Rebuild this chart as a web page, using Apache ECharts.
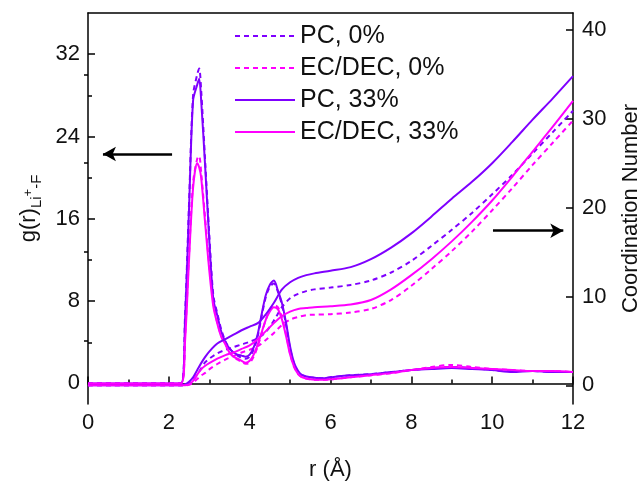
<!DOCTYPE html>
<html lang="en">
<head>
	<meta charset="utf-8">
	<script type="text/javascript" src="https://cdn.jsdelivr.net/npm/echarts@6/dist/echarts.min.js"></script>
	<title>g(r) and coordination number</title>
	<style>
		html,body{margin:0;padding:0;background:#fff;}
		#chart{width:643px;height:483px;}
	</style>
</head>
<body>
	<div id="chart"></div>
<script>
// r grid for g(r)
var rG = [0, 2.3, 2.4, 2.5, 2.6, 2.7, 2.75, 2.8, 2.9, 3.0, 3.1, 3.2, 3.3, 3.4, 3.5, 3.6, 3.7, 3.8, 3.9, 4.0,
	4.1, 4.2, 4.3, 4.4, 4.5, 4.6, 4.7, 4.8, 4.9, 5.0, 5.1, 5.2, 5.3, 5.5, 5.8, 6.0, 6.5, 7.0, 7.5, 8.0,
	8.5, 9.0, 9.5, 10.0, 10.5, 11.0, 11.5, 12.0];
var gPC0 = [0, 0, 6.5, 17.5, 28.0, 30.0, 30.6, 28.5, 21.5, 14.5, 8.6, 6.8, 5.2, 4.1, 3.4, 3.0, 2.7, 2.5, 2.4, 2.6,
	3.3, 4.6, 6.6, 8.4, 9.4, 9.7, 8.9, 7.6, 5.7, 3.4, 1.9, 1.1, 0.8, 0.6, 0.5, 0.6, 0.8, 0.9, 1.1, 1.3,
	1.5, 1.6, 1.5, 1.3, 1.2, 1.2, 1.1, 1.1];
var gEC0 = [0, 0, 4.5, 12.5, 19.5, 21.8, 22.1, 20.5, 16.0, 11.5, 7.8, 5.9, 4.6, 3.8, 3.0, 2.6, 2.3, 2.1, 1.9, 2.0,
	2.6, 3.6, 4.9, 6.2, 7.2, 7.6, 7.4, 6.4, 4.8, 2.9, 1.6, 0.9, 0.6, 0.4, 0.35, 0.4, 0.6, 0.8, 1.0, 1.3,
	1.6, 1.8, 1.6, 1.4, 1.3, 1.2, 1.2, 1.1];
var gPC33 = [0, 0, 6.0, 17.0, 27.5, 29.0, 29.6, 27.5, 21.0, 14.0, 8.2, 6.6, 5.0, 4.0, 3.4, 3.0, 2.8, 2.7, 2.6, 2.8,
	3.5, 4.8, 6.8, 8.6, 9.6, 10.0, 9.0, 7.8, 5.9, 3.6, 2.0, 1.2, 0.8, 0.6, 0.5, 0.6, 0.8, 0.9, 1.1, 1.3,
	1.4, 1.5, 1.4, 1.3, 1.1, 1.2, 1.1, 1.1];
var gEC33 = [0, 0, 4.0, 12.0, 19.0, 21.4, 21.0, 20.0, 15.5, 11.0, 7.5, 5.8, 4.5, 3.8, 3.0, 2.6, 2.4, 2.2, 2.0, 2.2,
	2.8, 3.8, 5.0, 6.2, 7.0, 7.4, 7.2, 6.2, 4.6, 2.8, 1.6, 0.9, 0.6, 0.4, 0.35, 0.4, 0.6, 0.8, 1.0, 1.3,
	1.5, 1.6, 1.5, 1.4, 1.3, 1.2, 1.2, 1.1];

// r grid for coordination number
var rCN = [0, 2.3, 2.4, 2.5, 2.6, 2.7, 2.8, 2.9, 3.0, 3.2, 3.4, 3.6, 3.8, 4.0, 4.2, 4.4, 4.6, 4.8, 5.0, 5.2,
	5.4, 5.6, 6.0, 6.5, 7.0, 7.5, 8.0, 8.5, 9.0, 9.5, 10.0, 10.5, 11.0, 11.5, 12.0];
var cnPC0 = [0, 0, 0, 0.2, 0.6, 1.2, 1.9, 2.6, 3.0, 3.6, 4.0, 4.3, 4.6, 4.9, 5.3, 6.0, 7.3, 8.8, 9.8, 10.3,
	10.6, 10.8, 11.0, 11.3, 11.8, 12.7, 14.0, 15.7, 17.5, 19.4, 21.5, 23.7, 26.1, 28.5, 30.9];
var cnEC0 = [0, 0, 0, 0.05, 0.3, 0.7, 1.1, 1.4, 1.8, 2.4, 2.9, 3.3, 3.7, 4.0, 4.4, 5.1, 5.9, 6.8, 7.4, 7.7,
	7.9, 7.95, 8.0, 8.2, 8.6, 9.6, 11.2, 13.1, 15.1, 17.3, 19.7, 22.2, 24.8, 27.3, 29.8];
var cnPC33 = [0, 0, 0.1, 0.4, 0.9, 1.7, 2.5, 3.2, 3.8, 4.7, 5.2, 5.7, 6.2, 6.6, 7.0, 8.0, 9.3, 10.8, 11.6, 12.1,
	12.4, 12.6, 12.9, 13.3, 14.2, 15.5, 17.1, 19.0, 21.0, 22.9, 25.0, 27.4, 29.9, 32.3, 34.8];
var cnEC33 = [0, 0, 0, 0.1, 0.5, 1.2, 1.8, 2.2, 2.5, 3.0, 3.4, 3.7, 4.1, 4.5, 5.2, 6.1, 7.0, 7.8, 8.3, 8.6,
	8.7, 8.8, 8.9, 9.1, 9.6, 10.8, 12.4, 14.2, 16.2, 18.4, 20.8, 23.5, 26.3, 29.1, 32.0];

var names = ['PC, 0%', 'EC/DEC, 0%', 'PC, 33%', 'EC/DEC, 33%'];
var xTicks = [0, 2, 4, 6, 8, 10, 12];
var gTicks = [0, 8, 16, 24, 32];
var gMinor = [4, 12, 20, 28];
var cnTicks = [0, 10, 20, 30, 40];
var cnMinor = [5, 15, 25, 35];

// arrows: [from, to] in data units
var arrowLeft = [[2.08, 22.3], [0.37, 22.3]];
var arrowRight = [[10.02, 17.4], [11.76, 17.4]];

var PURPLE = '#7f00ff';
var MAGENTA = '#ff00ff';
var FONT = 'Liberation Sans, Arial, sans-serif';

function pairs(xs, ys){
	var out = [];
	for(var i=0;i<xs.length;i++){ out.push([xs[i], ys[i]]); }
	return out;
}

function line(name, xs, ys, color, dashed, yIdx){
	return {
		name: name,
		type: 'line',
		xAxisIndex: 0,
		yAxisIndex: yIdx,
		data: pairs(xs, ys),
		symbol: 'none',
		showSymbol: false,
		smooth: 0.3,
		lineStyle: {color: color, width: 2, type: dashed ? [5, 4] : 'solid'},
		itemStyle: {color: color},
		z: dashed ? 2 : 3
	};
}

function arrowMark(pts){
	return {
		silent: true,
		symbol: ['none', 'arrow'],
		symbolSize: [11, 13],
		label: {show: false},
		lineStyle: {color: '#000', width: 2.5, type: 'solid'},
		emphasis: {disabled: true},
		data: [[{coord: pts[0]}, {coord: pts[1]}]]
	};
}

var axisCol = '#000';
var series = [
	line(names[0], rG, gPC0, PURPLE, true, 0),
	line(names[1], rG, gEC0, MAGENTA, true, 0),
	line(names[2], rG, gPC33, PURPLE, false, 0),
	line(names[3], rG, gEC33, MAGENTA, false, 0),
	line(names[0], rCN, cnPC0, PURPLE, true, 1),
	line(names[1], rCN, cnEC0, MAGENTA, true, 1),
	line(names[2], rCN, cnPC33, PURPLE, false, 1),
	line(names[3], rCN, cnEC33, MAGENTA, false, 1)
];
series[2].markLine = arrowMark(arrowLeft);
series[6].markLine = arrowMark(arrowRight);

var myChart = echarts.init(document.getElementById('chart'));
var option = {
	animation: false,
	textStyle: {fontFamily: FONT},
	grid: {left: 88, right: 70, top: 13, bottom: 79, outerBoundsMode: 'none'},
	legend: {
		data: names,
		orient: 'vertical',
		left: 229,
		top: 17,
		itemWidth: 60,
		itemHeight: 14,
		itemGap: 4,
		itemStyle: {opacity: 0},
		textStyle: {fontSize: 25, color: '#111', fontFamily: FONT, lineHeight: 28}
	},
	xAxis: [{
		type: 'value',
		min: 0, max: 12, interval: 2,
		name: 'r (Å)',
		nameLocation: 'middle',
		nameGap: 55,
		nameTextStyle: {fontSize: 22, color: '#111'},
		axisLine: {show: true, lineStyle: {color: axisCol, width: 1.5}},
		axisTick: {show: true, inside: true, length: 7, lineStyle: {color: axisCol, width: 1.5}},
		minorTick: {show: true, splitNumber: 2, length: 4, lineStyle: {color: axisCol, width: 1.5}},
		axisLabel: {fontSize: 22, color: '#111', margin: 8},
		splitLine: {show: false}
	}, {
		type: 'value',
		position: 'top',
		min: 0, max: 12,
		axisLine: {show: true, onZero: false, lineStyle: {color: axisCol, width: 1.5}},
		axisTick: {show: false},
		axisLabel: {show: false},
		splitLine: {show: false}
	}],
	yAxis: [{
		type: 'value',
		position: 'left',
		min: -2, max: 36,
		name: '{a|g(r)}{sub|Li}{sup|+}{sub|-F}',
		nameLocation: 'middle',
		nameRotate: 90,
		nameGap: 44,
		nameTextStyle: {
			color: '#111',
			rich: {
				a: {fontSize: 22, lineHeight: 30, color: '#111', fontFamily: FONT},
				sub: {fontSize: 15, lineHeight: 15, verticalAlign: 'bottom', color: '#111', fontFamily: FONT},
				sup: {fontSize: 13, lineHeight: 13, verticalAlign: 'bottom', padding: [0, 0, 9, 0], color: '#111', fontFamily: FONT}
			}
		},
		axisLine: {show: true, onZero: false, lineStyle: {color: axisCol, width: 1.5}},
		axisTick: {show: true, inside: true, length: 7, customValues: gTicks, lineStyle: {color: axisCol, width: 1.5}},
		axisLabel: {fontSize: 22, color: '#111', margin: 8, customValues: gTicks},
		splitLine: {show: false}
	}, {
		type: 'value',
		position: 'right',
		min: -2.1, max: 41.9,
		name: 'Coordination Number',
		nameLocation: 'middle',
		nameRotate: 90,
		nameGap: 47,
		nameTextStyle: {fontSize: 22, color: '#111'},
		axisLine: {show: true, onZero: false, lineStyle: {color: axisCol, width: 1.5}},
		axisTick: {show: true, inside: true, length: 7, customValues: cnTicks, lineStyle: {color: axisCol, width: 1.5}},
		axisLabel: {fontSize: 22, color: '#111', margin: 9, customValues: cnTicks},
		splitLine: {show: false}
	}, {
		type: 'value',
		position: 'left',
		min: -2, max: 36,
		axisLine: {show: false},
		axisTick: {show: true, inside: true, length: 4, customValues: gMinor, lineStyle: {color: axisCol, width: 1.5}},
		axisLabel: {show: false},
		splitLine: {show: false}
	}, {
		type: 'value',
		position: 'right',
		min: -2.1, max: 41.9,
		axisLine: {show: false},
		axisTick: {show: true, inside: true, length: 4, customValues: cnMinor, lineStyle: {color: axisCol, width: 1.5}},
		axisLabel: {show: false},
		splitLine: {show: false}
	}],
	series: series
};
myChart.setOption(option);
</script>
</body>
</html>
